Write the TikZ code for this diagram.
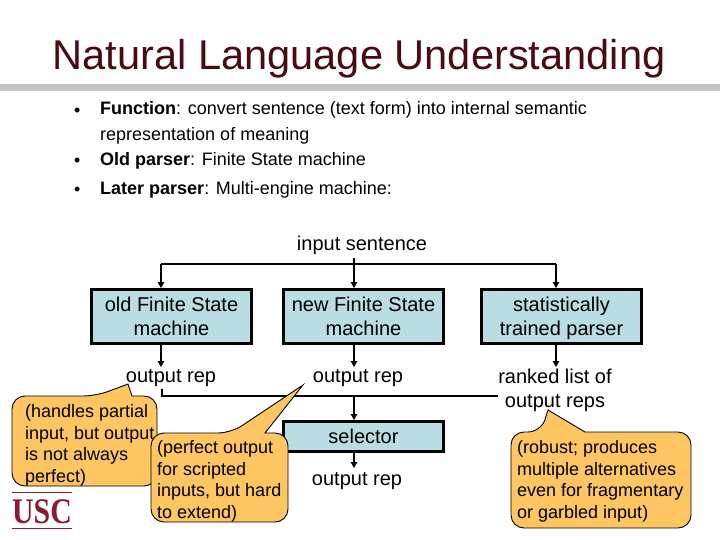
\documentclass[tikz,border=0pt]{standalone}
\usepackage{fontspec}
\setmainfont{Liberation Sans}
\newfontfamily\logofont{Liberation Serif}
\usetikzlibrary{arrows.meta}
\definecolor{titlecol}{HTML}{4A0A12}
\definecolor{rulecol}{HTML}{C4C4C4}
\definecolor{boxfill}{HTML}{B9DDE3}
\definecolor{notefill}{HTML}{FDC663}
\definecolor{uscred}{HTML}{8A1C30}
\newcommand{\lowerstrut}{\rule{0pt}{21pt}}
\tikzset{
  x=1pt,y=-1pt,
  title/.style={anchor=base,inner sep=0,text=titlecol,font=\fontsize{41.6}{48}\selectfont},
  bullet/.style={anchor=base west,inner sep=0,font=\fontsize{18}{21}\selectfont},
  label/.style={align=center,inner sep=0,font=\fontsize{20}{24}\selectfont},
  procbox/.style={draw=black,line width=3pt,fill=boxfill,align=center,inner sep=0,
    minimum width=160pt,font=\fontsize{20}{24}\selectfont},
  conn/.style={draw=black,line width=1.2pt,-{Triangle[length=6pt,width=6.5pt]}},
  wire/.style={draw=black,line width=1.2pt},
  note/.style={draw=black,line width=0.9pt,fill=notefill},
  notetext/.style={align=left,inner sep=0,anchor=west,font=\fontsize{18}{21.6}\selectfont},
}
\begin{document}
\begin{tikzpicture}
\useasboundingbox (0,0) rectangle (720,540);
\fill[white] (0,0) rectangle (720,540);
% title
\node[title] (ttl) at (359,70) {Natural Language Understanding};
\fill[rulecol] (0,84) rectangle (720,91);
% bullets
\node[bullet] (d1) at (74,116.5) {•};
\node[bullet] (t1) at (100,115) {\textbf{Function}: convert sentence (text form) into internal semantic};
\node[bullet] (t1b) at (100,141) {representation of meaning};
\node[bullet] (d2) at (74,166.5) {•};
\node[bullet] (t2) at (100,166) {\textbf{Old parser}: Finite State machine};
\node[bullet] (d3) at (74,195.5) {•};
\node[bullet] (t3) at (100,195) {\textbf{Later parser}: Multi-engine machine:};
% diagram nodes
\node[label] (insent) at (362,245) {input sentence};
\node[procbox,minimum height=54pt] (b1) at (171.5,316.5) {\lowerstrut old Finite State\\machine\strut};
\node[procbox,minimum height=54pt] (b2) at (363.5,316.5) {\lowerstrut new Finite State\\machine\strut};
\node[procbox,minimum height=54pt] (b3) at (561.5,316.5) {\lowerstrut statistically\\trained parser\strut};
\node[label] (o1) at (171,378) {output rep};
\node[label] (o2) at (358,378) {output rep};
\node[label] (o3) at (555,390) {ranked list of\\output reps};
\node[procbox,minimum height=30pt] (sel) at (363.5,436.5) {selector};
\node[label] (o4) at (357,481) {output rep};
% connectors
\coordinate (busL) at (161,264);
\coordinate (busM) at (354,264);
\coordinate (busR) at (556,264);
\coordinate (inTop) at (354,258);
\coordinate (mergeL) at (162,389);
\coordinate (mergeBL) at (162,396);
\coordinate (mergeM) at (354,396);
\coordinate (mergeR) at (498,396);
\draw[wire] (inTop) -- (busM);
\draw[wire] (busL) -- (busR);
\draw[conn] (busL) -- (busL |- b1.north);
\draw[conn] (busM) -- (busM |- b2.north);
\draw[conn] (busR) -- (busR |- b3.north);
\draw[conn] (busL |- b1.south) -- (161,367);
\draw[conn] (busM |- b2.south) -- (354,367);
\draw[conn] (busR |- b3.south) -- (556,367);
\draw[wire] (mergeL) -- (mergeBL) -- (mergeR);
\draw[conn] (mergeM) -- (mergeM |- sel.north);
\draw[conn] (mergeM |- sel.south) -- (354,468);
% callouts
\draw[note] (96,396) -- (128,384) -- (132,396) [rounded corners=13pt] -- (157,396) -- (157,486) -- (12,486) -- (12,396) -- cycle;
\node[notetext] (n1) at (25,445.5) {(handles partial\\input, but output\\is not always\\perfect)};
\draw[note] (231,433) -- (303,385) -- (265,433) [rounded corners=13pt] -- (288,433) -- (288,522) -- (151,522) -- (151,433) -- cycle;
\node[notetext] (n2) at (157,481.5) {(perfect output\\for scripted\\inputs, but hard\\to extend)};
\draw[note] (541,432) -- (548,410) -- (585,432) [rounded corners=13pt] -- (691,432) -- (691,528) -- (511,528) -- (511,432) -- cycle;
\node[notetext] (n3) at (517,481.5) {(robust; produces\\multiple alternatives\\even for fragmentary\\or garbled input)};
% logo
\draw[uscred,line width=1pt] (12,492.5) -- (72,492.5);
\draw[uscred,line width=1pt] (12,528) -- (72,528);
\node[inner sep=0,anchor=base,text=uscred,font=\logofont\bfseries\fontsize{36}{36}\selectfont,xscale=0.83,transform shape] (usc) at (42,523) {USC};
\end{tikzpicture}
\end{document}
